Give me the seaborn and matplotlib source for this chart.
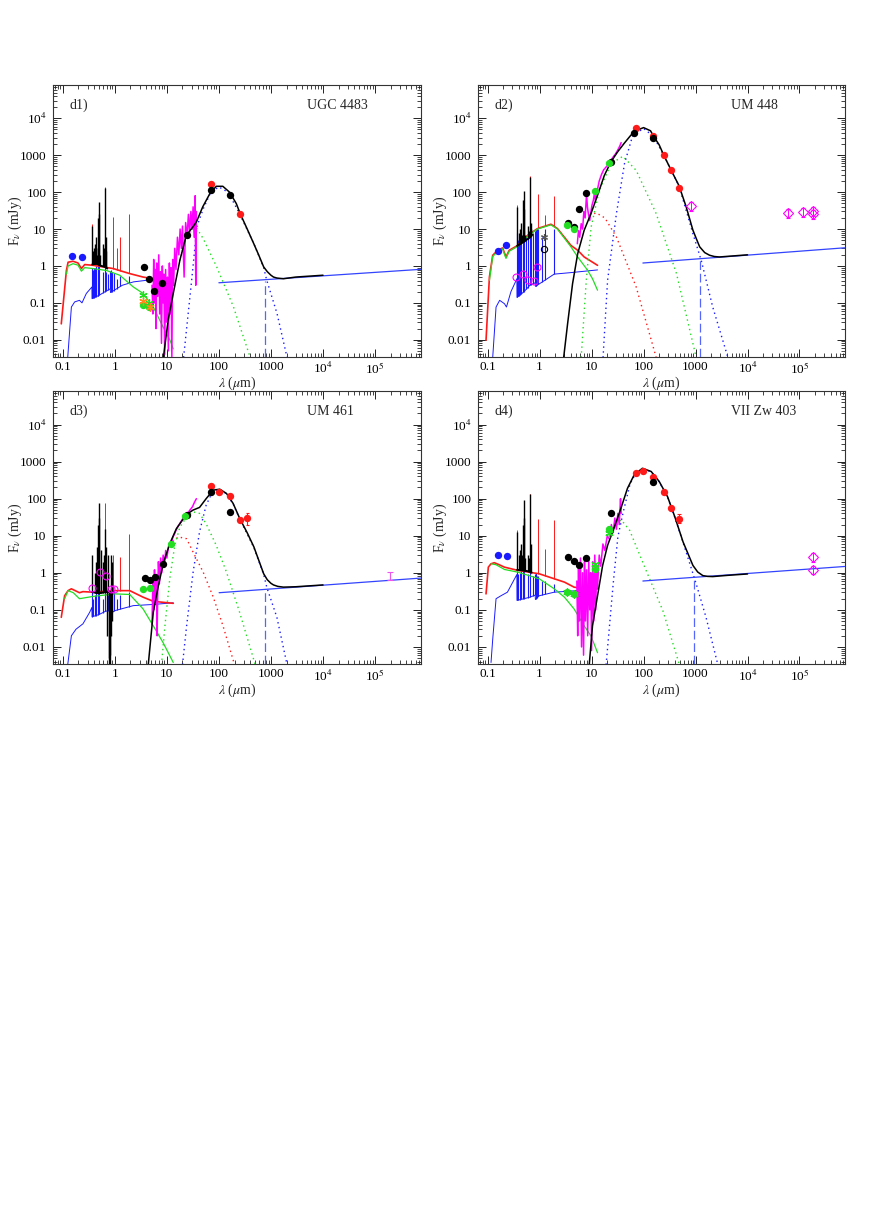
import matplotlib
matplotlib.use("Agg")
import matplotlib.pyplot as plt
import numpy as np
import seaborn as sns

# ---------------- d1  UGC 4483 ----------------
D1_RED = [(0.094, 0.027), (0.118, 0.76), (0.127, 1.26), (0.158, 1.34), (0.197, 1.2), (0.229, 0.85),
          (0.265, 1.09), (0.383, 1.04), (0.93, 0.85), (1.94, 0.62), (3.5, 0.50), (5.46, 0.45), (13.3, 0.43)]
D1_GREEN = [(0.118, 0.6), (0.127, 1.0), (0.158, 1.15), (0.197, 1.05), (0.229, 0.72), (0.265, 0.9), (0.383, 0.85),
            (0.7, 0.75), (1.25, 0.56), (2.27, 0.27), (3.5, 0.18), (5.5, 0.077), (8.5, 0.022), (11.5, 0.0097), (13.3, 0.0057)]
D1_BLUE = [(0.125, 0.0033), (0.147, 0.077), (0.17, 0.106), (0.21, 0.117), (0.235, 0.1), (0.285, 0.18), (0.365, 0.27),
           (0.367, 0.13), (0.5, 0.16), (0.65, 0.2), (0.82, 0.24), (0.83, 0.19), (1.4, 0.3), (2.3, 0.37), (5.5, 0.43), (13.3, 0.44)]
D1_BLUE_LINES = [(0.373, 0.9), (0.39, 0.8), (0.397, 0.9), (0.41, 0.9), (0.434, 1.0), (0.47, 0.8), (0.486, 1.0), (0.5, 1.1),
                 (0.59, 0.7), (0.656, 1.0), (0.67, 0.7), (0.73, 0.6), (0.82, 0.75), (0.84, 0.8), (0.87, 0.6), (0.9, 0.7),
                 (0.95, 0.65), (1.09, 0.45), (1.28, 0.55), (1.87, 0.55)]
D1_OPT = [(0.37, 1.1), (0.45, 1.15), (0.55, 1.0), (0.65, 0.95), (0.72, 0.85)]
D1_OPT_LINES = [(0.373, 12), (0.387, 2.5), (0.397, 3), (0.41, 4), (0.42, 2), (0.434, 6), (0.438, 3), (0.45, 2),
                (0.469, 3), (0.486, 20), (0.496, 25), (0.5007, 55), (0.53, 2), (0.588, 4), (0.61, 2), (0.63, 3),
                (0.656, 130), (0.672, 6), (0.69, 2.5)]
D1_RED_LINES = [(0.373, 14), (0.656, 135), (0.94, 21), (1.09, 3), (1.28, 6), (1.87, 25)]
D1_IRS = [(5.2, 0.3), (5.4, 0.05), (5.6, 1.5), (5.8, 0.1), (6.0, 0.8), (6.2, 0.02), (6.4, 1.2), (6.7, 0.15), (7.0, 2.0),
          (7.3, 0.05), (7.6, 0.7), (7.9, 0.008), (8.2, 1.0), (8.5, 0.1), (8.8, 0.6), (9.1, 0.004), (9.5, 0.8), (9.9, 0.03),
          (10.3, 0.5), (10.7, 0.005), (11.2, 1.2), (11.6, 0.05), (12.0, 0.9), (12.5, 0.003), (13, 1.5), (13.5, 0.3),
          (14.2, 3), (15, 0.8), (16, 6), (17, 2), (18, 10), (19, 3), (20, 12), (21.5, 0.5), (23, 15), (24.5, 6), (26, 25),
          (27.5, 8), (29, 30), (30.5, 10), (32, 40), (33.5, 6), (35, 80), (36, 0.3), (37, 30)]
D1_MODEL = [(8.6, 0.0033), (10.6, 0.034), (13.3, 0.18), (17.8, 1.42), (23.7, 6.8), (31.7, 11.4), (37, 15.6), (49, 40),
            (67, 91), (89, 144), (119, 144), (160, 100), (216, 49), (257, 26), (350, 10), (468, 4.0), (580, 2.0),
            (725, 0.94), (850, 0.7), (1000, 0.56), (1120, 0.5), (1300, 0.47), (1740, 0.45), (3000, 0.5), (10000, 0.56)]
D1_WARM = [(17.8, 1.4), (23.7, 6.5), (31.7, 10.5), (37.8, 10.3), (50, 5.5), (91, 0.94), (191, 0.077), (400, 0.0033)]
D1_COLD = [(21, 0.0033), (30, 0.41), (38, 12), (50, 35), (70, 100), (100, 138), (150, 100), (250, 26), (470, 4),
           (725, 0.9), (830, 0.41), (1310, 0.051), (2040, 0.0033)]
D1_RADIO = [(100, 0.35), (7.6e5, 0.81)]
D1_CUT = (753, 0.4)
D1_UV = [(0.153, 1.9), (0.231, 1.8)]
D1_BLACK_PTS = [(3.6, 0.93), (4.5, 0.43), (5.8, 0.21), (8.0, 0.35), (24, 7.1), (70, 112), (160, 83)]
D1_RED_PTS = [(70, 170), (250, 25)]
D1_GREEN_PTS = [(3.55, 0.086), (4.6, 0.075)]
D1_GREEN_STARS = [(3.55, 0.16), (4.6, 0.1)]
D1_ORANGE_STARS = [(3.55, 0.11), (4.7, 0.075)]

# ---------------- d2  UM 448 ----------------
D2_RED = [(0.093, 0.0097), (0.108, 0.5), (0.125, 1.94), (0.156, 2.66), (0.194, 3.07), (0.225, 1.75), (0.26, 2.66),
          (0.378, 3.6), (0.59, 6.8), (0.91, 10.3), (1.65, 13.5), (2.2, 10.3), (4.0, 3.6), (5.4, 2.66), (7.2, 1.75), (13, 1.04)]
D2_GREEN = [(0.108, 0.4), (0.125, 1.8), (0.156, 2.5), (0.194, 2.9), (0.225, 1.6), (0.26, 2.5), (0.378, 3.4), (0.59, 6.5),
            (0.91, 10), (1.65, 13), (2.2, 10), (4.0, 3.3), (5.4, 1.75), (8.4, 0.76), (10.4, 0.45), (13, 0.22)]
D2_BLUE = [(0.125, 0.0033), (0.145, 0.077), (0.17, 0.117), (0.21, 0.095), (0.23, 0.077), (0.28, 0.2), (0.365, 0.45),
           (0.367, 0.14), (0.5, 0.2), (0.65, 0.3), (0.82, 0.35), (0.83, 0.28), (1.23, 0.4), (1.9, 0.6), (4, 0.66), (13, 0.78)]
D2_BLUE_LINES = [(0.373, 8), (0.39, 5), (0.397, 6), (0.41, 6), (0.434, 7), (0.486, 8), (0.5, 9), (0.55, 6), (0.59, 7),
                 (0.656, 10), (0.67, 7), (0.73, 8), (0.82, 9), (0.84, 10), (0.87, 9), (0.9, 11), (0.95, 10), (1.09, 6),
                 (1.28, 10), (1.87, 10)]
D2_OPT = [(0.37, 3.5), (0.45, 4.2), (0.55, 5), (0.65, 6), (0.72, 7)]
D2_OPT_LINES = [(0.373, 40), (0.397, 8), (0.41, 10), (0.42, 6), (0.434, 15), (0.45, 7), (0.486, 60), (0.496, 35),
                (0.5007, 110), (0.53, 7), (0.59, 12), (0.63, 9), (0.656, 260), (0.672, 15), (0.69, 10)]
D2_RED_LINES = [(0.373, 45), (0.656, 270), (0.94, 90), (1.28, 24), (1.87, 80)]
D2_IRS = [(5.3, 4), (5.6, 9), (5.9, 6), (6.3, 14), (6.7, 10), (7.1, 30), (7.5, 20), (8.0, 90), (8.3, 40), (8.7, 25),
          (9.2, 17), (9.7, 30), (10.2, 45), (10.8, 60), (11.3, 90), (11.8, 60), (12.4, 100), (13, 120), (14, 200),
          (15.5, 300), (17, 400), (19, 480), (21, 560), (23, 700), (26, 900), (29, 1100), (32, 1400), (35, 1800), (37, 2200)]
D2_MODEL = [(2.9, 0.0033), (3.45, 0.027), (4.3, 0.33), (5.4, 2.16), (7.2, 9.3), (9.7, 26), (13, 82), (17.6, 285),
            (23.5, 660), (31.6, 1230), (42, 2070), (57, 3500), (75, 4800), (100, 5600), (136, 4600), (155, 3300),
            (200, 1900), (245, 1000), (340, 390), (480, 150), (660, 40), (890, 9.3), (1050, 5.2), (1200, 3.3),
            (1500, 2.3), (1860, 1.95), (2300, 1.8), (2880, 1.75), (10000, 2.0)]
D2_HOT = [(9.1, 24), (12.3, 27.4), (18, 20), (30, 6.1), (72, 0.27), (175, 0.0033)]
D2_WARM = [(6.3, 0.0033), (7.9, 0.41), (9.8, 11.4), (14, 112), (24, 600), (40, 935), (72, 390), (175, 26), (430, 0.62),
           (1030, 0.0033)]
D2_COLD = [(16.6, 0.0033), (20.3, 0.41), (30, 26), (43, 600), (62, 3500), (100, 5300), (155, 3250), (245, 990),
           (480, 148), (890, 7.5), (1290, 1.4), (2140, 0.077), (4200, 0.0033)]
D2_RADIO = [(97, 1.2), (7.4e5, 3.1)]
D2_CUT = (1230, 1.45)
D2_UV = [(0.156, 2.55), (0.23, 3.6)]
D2_BLACK_PTS = [(3.45, 14.6), (4.5, 11.4), (5.6, 34.5), (7.8, 97), (23.5, 660), (66, 4100), (151, 3000)]
D2_RED_PTS = [(70, 5500), (155, 3330), (245, 1000), (340, 390), (480, 133)]
D2_GREEN_PTS = [(3.35, 12.7), (4.5, 9.8), (11.5, 107), (22, 620)]
D2_OPEN_CIRCLES = [(0.35, 0.5), (0.47, 0.62), (0.6, 0.41), (0.77, 0.39), (0.89, 0.94)]
D2_BLACK_OPEN = [(1.23, 2.95)]
D2_BLACK_STAR = [(1.23, 6.1)]
D2_DIAMONDS = [(830, 42), (6e4, 27), (1.15e5, 29), (1.85e5, 31), (1.85e5, 25)]

# ---------------- d3  UM 461 ----------------
D3_RED = [(0.094, 0.063), (0.109, 0.24), (0.127, 0.33), (0.147, 0.37), (0.21, 0.29), (0.245, 0.31), (0.38, 0.3),
          (1.0, 0.33), (1.94, 0.33), (3.5, 0.22), (5.5, 0.17), (13.3, 0.15)]
D3_GREEN = [(0.109, 0.2), (0.127, 0.33), (0.16, 0.29), (0.21, 0.2), (0.38, 0.23), (1.0, 0.27), (1.94, 0.26),
            (3.5, 0.106), (5.5, 0.037), (8.5, 0.013), (13.3, 0.0038)]
D3_BLUE = [(0.125, 0.0033), (0.147, 0.02), (0.18, 0.03), (0.245, 0.042), (0.33, 0.086), (0.365, 0.117), (0.367, 0.065),
           (0.5, 0.075), (0.65, 0.09), (0.82, 0.1), (0.83, 0.08), (1.0, 0.095), (2.27, 0.13), (5.5, 0.14), (13.3, 0.155)]
D3_BLUE_LINES = [(0.373, 0.3), (0.39, 0.2), (0.41, 0.25), (0.434, 0.3), (0.486, 0.3), (0.5, 0.3), (0.59, 0.2),
                 (0.656, 0.35), (0.73, 0.25), (0.82, 0.3), (0.84, 0.35), (0.87, 0.3), (0.9, 0.3), (0.95, 0.3),
                 (1.09, 0.2), (1.28, 0.25), (1.87, 0.3)]
D3_OPT = [(0.37, 0.3), (0.5, 0.28), (0.65, 0.3), (0.75, 0.3), (0.95, 0.3)]
D3_OPT_LINES = [(0.373, 3), (0.41, 1), (0.434, 2), (0.45, 5), (0.486, 20), (0.496, 30), (0.5007, 75), (0.55, 4),
                (0.59, 2), (0.63, 3), (0.656, 15), (0.672, 5), (0.72, 0.02), (0.75, 3), (0.76, 0.003), (0.78, 0.005),
                (0.8, 0.003), (0.82, 0.006), (0.84, 0.02), (0.86, 3), (0.88, 0.05), (0.9, 2)]
D3_RED_LINES = [(0.656, 74), (0.94, 3), (1.28, 2.7), (1.87, 11.4)]
D3_IRS = [(5.2, 0.04), (5.4, 0.6), (5.6, 0.1), (5.8, 1.2), (6.0, 0.2), (6.3, 0.9), (6.5, 0.02), (6.7, 0.3), (6.9, 2.0),
          (7.2, 0.5), (7.6, 2.5), (8.0, 1.0), (8.5, 3), (9.0, 1.5), (9.5, 4), (10, 2.5), (11, 6), (12, 5), (13, 9),
          (14, 11), (15, 14), (16.5, 18), (18, 22), (20, 28), (22, 32), (25, 40), (28, 50), (31, 60), (34, 80), (37, 100)]
D3_MODEL = [(4.4, 0.0033), (5.5, 0.086), (6.7, 0.37), (8.5, 1.75), (11.4, 6.1), (15.3, 15.6), (23.7, 37), (31.7, 49),
            (42.5, 58), (57, 100), (77.8, 170), (104, 180), (140, 138), (188, 74), (252, 29), (350, 12), (470, 5),
            (725, 0.94), (850, 0.65), (1000, 0.52), (1120, 0.47), (1350, 0.43), (1740, 0.41), (3000, 0.42), (10000, 0.47)]
D3_HOT = [(13, 7), (16.6, 9.3), (24, 8.3), (32, 3.6), (50, 1.04), (78, 0.22), (120, 0.037), (200, 0.0033)]
D3_WARM = [(7.9, 0.0033), (9.2, 0.037), (11.4, 0.69), (14.2, 5.5), (17.8, 17), (24, 32), (32, 44), (42.5, 40), (57, 21),
           (89, 5.5), (140, 1.04), (250, 0.086), (500, 0.0033)]
D3_COLD = [(20, 0.0033), (24, 0.037), (32, 1.04), (42.5, 12.7), (57, 67), (75, 150), (104, 175), (140, 135), (188, 72),
           (252, 28), (470, 4.8), (725, 0.9), (830, 0.41), (1300, 0.063), (2040, 0.0033)]
D3_RADIO = [(101, 0.29), (7.6e5, 0.72)]
D3_CUT = (780, 0.35)
D3_BLACK_PTS = [(3.78, 0.72), (4.7, 0.62), (6.05, 0.76), (8.5, 1.75), (24.5, 36), (72, 148), (162, 44)]
D3_RED_PTS = [(72, 220), (100, 148), (162, 117), (250, 27), (350, 31)]
D3_GREEN_PTS = [(3.5, 0.37), (4.7, 0.38), (12.3, 6.1), (22, 33.6)]
D3_OPEN_CIRCLES = [(0.37, 0.39), (0.51, 1.04), (0.67, 0.8), (0.83, 0.37), (0.97, 0.37)]
D3_RED_ERR = [(350, 20, 42)]
D3_PINK_ERR = [(1.95e5, 0.64, 1.04)]

# ---------------- d4  VII Zw 403 ----------------
D4_RED = [(0.093, 0.27), (0.103, 1.42), (0.116, 1.75), (0.134, 1.87), (0.167, 1.65), (0.21, 1.42), (0.38, 1.16),
          (0.98, 0.94), (1.91, 0.69), (3.0, 0.56), (4.6, 0.41), (7.2, 0.37), (13, 0.37)]
D4_GREEN = [(0.116, 1.75), (0.145, 1.65), (0.21, 1.23), (0.38, 1.04), (0.98, 0.69), (1.91, 0.37), (3.0, 0.22),
            (4.6, 0.106), (7.2, 0.037), (9.7, 0.02), (13, 0.007)]
D4_BLUE = [(0.116, 0.0038), (0.125, 0.016), (0.145, 0.2), (0.18, 0.24), (0.24, 0.3), (0.365, 0.9), (0.367, 0.18),
           (0.5, 0.2), (0.65, 0.22), (0.82, 0.25), (0.83, 0.19), (0.98, 0.24), (1.91, 0.3), (5.4, 0.33), (13, 0.37)]
D4_BLUE_LINES = [(0.373, 1.1), (0.39, 0.9), (0.41, 1), (0.434, 1.1), (0.486, 1.2), (0.5, 1.2), (0.59, 0.9), (0.656, 1.1),
                 (0.73, 0.8), (0.82, 0.9), (0.84, 1), (0.87, 0.9), (0.9, 0.8), (0.95, 0.8), (1.09, 0.6), (1.28, 0.6),
                 (1.87, 0.5)]
D4_OPT = [(0.37, 1.2), (0.5, 1.15), (0.6, 1.1), (0.7, 1.0)]
D4_OPT_LINES = [(0.373, 12.6), (0.397, 3), (0.41, 4), (0.42, 2.5), (0.434, 6), (0.45, 3), (0.486, 20), (0.496, 30),
                (0.5007, 91), (0.53, 2.5), (0.59, 3), (0.63, 2.5), (0.656, 130), (0.672, 6)]
D4_RED_LINES = [(0.373, 14), (0.656, 135), (0.94, 28), (1.28, 4.5), (1.87, 26)]
D4_IRS = [(5.2, 0.6), (5.4, 0.02), (5.6, 1.5), (5.8, 0.05), (6.1, 2.5), (6.4, 0.01), (6.7, 1.0), (7.0, 0.006),
          (7.3, 2.0), (7.6, 0.05), (8.0, 1.2), (8.4, 0.02), (8.8, 2.5), (9.2, 0.1), (9.6, 1.0), (10, 0.008), (10.5, 2.0),
          (11, 0.05), (11.5, 3), (12, 0.1), (12.5, 1.5), (13, 0.4), (14, 3), (15, 1.5), (16.5, 6), (18, 4), (20, 10),
          (22, 8), (24, 20), (26, 12), (28, 30), (30, 15), (32, 40), (34, 20), (36, 100), (37, 40)]
D4_MODEL = [(9, 0.0033), (10.4, 0.037), (13, 0.24), (16.3, 1.58), (20.3, 5.5), (27.3, 17), (36.5, 54), (49, 190),
            (66, 440), (95, 660), (140, 540), (200, 290), (290, 112), (400, 32), (575, 6.8), (890, 1.58), (1100, 1.05),
            (1380, 0.84), (1700, 0.8), (2140, 0.79), (4000, 0.85), (10000, 0.93)]
D4_WARM = [(20, 10), (27, 16), (37, 27), (54, 14), (112, 1.15), (235, 0.095), (490, 0.0033)]
D4_COLD = [(19, 0.0033), (26, 0.5), (32, 9.3), (40, 40), (55, 250), (70, 470), (95, 640), (140, 530), (200, 285),
           (290, 110), (400, 31), (575, 6.6), (1030, 0.5), (1590, 0.063), (2690, 0.0033)]
D4_RADIO = [(97, 0.6), (7.4e5, 1.48)]
D4_CUT = (915, 0.7)
D4_UV = [(0.158, 3.07), (0.234, 2.8)]
D4_BLACK_PTS = [(3.55, 2.66), (4.5, 2.07), (5.8, 1.58), (7.8, 2.55), (23.5, 42), (155, 275)]
D4_RED_PTS = [(70, 500), (98, 565), (155, 390), (245, 148), (340, 56), (480, 29)]
D4_GREEN_PTS = [(3.35, 0.31), (4.6, 0.27), (11.5, 1.28), (22, 15.6)]
D4_GREEN_STARS = [(3.35, 0.31), (4.6, 0.27), (11.5, 1.7), (22, 12)]
D4_DIAMONDS = [(1.85e5, 2.66), (1.85e5, 1.2)]
D4_RED_ERR = [(480, 22, 38)]

PANELS = [
    dict(tag="d1)", name="UGC 4483", red=D1_RED, green=D1_GREEN, blue=D1_BLUE, blines=D1_BLUE_LINES, opt=D1_OPT,
         olines=D1_OPT_LINES, rlines=D1_RED_LINES, irs=D1_IRS, model=D1_MODEL, hot=None, warm=D1_WARM, cold=D1_COLD,
         radio=D1_RADIO, cut=D1_CUT, uv=D1_UV, black=D1_BLACK_PTS, redp=D1_RED_PTS, greenp=D1_GREEN_PTS,
         gstars=D1_GREEN_STARS, ostars=D1_ORANGE_STARS),
    dict(tag="d2)", name="UM 448", red=D2_RED, green=D2_GREEN, blue=D2_BLUE, blines=D2_BLUE_LINES, opt=D2_OPT,
         olines=D2_OPT_LINES, rlines=D2_RED_LINES, irs=D2_IRS, model=D2_MODEL, hot=D2_HOT, warm=D2_WARM, cold=D2_COLD,
         radio=D2_RADIO, cut=D2_CUT, uv=D2_UV, black=D2_BLACK_PTS, redp=D2_RED_PTS, greenp=D2_GREEN_PTS,
         circles=D2_OPEN_CIRCLES, bopen=D2_BLACK_OPEN, bstar=D2_BLACK_STAR, diamonds=D2_DIAMONDS),
    dict(tag="d3)", name="UM 461", red=D3_RED, green=D3_GREEN, blue=D3_BLUE, blines=D3_BLUE_LINES, opt=D3_OPT,
         olines=D3_OPT_LINES, rlines=D3_RED_LINES, irs=D3_IRS, model=D3_MODEL, hot=D3_HOT, warm=D3_WARM, cold=D3_COLD,
         radio=D3_RADIO, cut=D3_CUT, uv=[], black=D3_BLACK_PTS, redp=D3_RED_PTS, greenp=D3_GREEN_PTS,
         circles=D3_OPEN_CIRCLES, rerr=D3_RED_ERR, perr=D3_PINK_ERR),
    dict(tag="d4)", name="VII Zw 403", red=D4_RED, green=D4_GREEN, blue=D4_BLUE, blines=D4_BLUE_LINES, opt=D4_OPT,
         olines=D4_OPT_LINES, rlines=D4_RED_LINES, irs=D4_IRS, model=D4_MODEL, hot=None, warm=D4_WARM, cold=D4_COLD,
         radio=D4_RADIO, cut=D4_CUT, uv=D4_UV, black=D4_BLACK_PTS, redp=D4_RED_PTS, greenp=D4_GREEN_PTS,
         gstars=D4_GREEN_STARS, diamonds=D4_DIAMONDS, rerr=D4_RED_ERR),
]

# axes boxes (figure fraction)
BOXES = [[0.0611, 0.7102, 0.4213, 0.2208], [0.5485, 0.7102, 0.4205, 0.2208],
         [0.0611, 0.4608, 0.4213, 0.2218], [0.5485, 0.4608, 0.4205, 0.2218]]

XTICKS = [0.1, 1, 10, 100, 1000, 1e4, 1e5]
XTICKLABELS = ["0.1", "1", "10", "100", "1000", "10$^4$", "10$^5$"]
YTICKS = [0.01, 0.1, 1, 10, 100, 1000, 1e4]
YTICKLABELS = ["0.01", "0.1", "1", "10", "100", "1000", "10$^4$"]

RED = "#ff1a1a"
GREEN = "#22dd22"
BLUE = "#1a1aff"
MAG = "#ff00ff"

sns.set_style("ticks")
plt.rcParams["font.family"] = ["Liberation Serif", "DejaVu Serif"]
plt.rcParams["mathtext.fontset"] = "stix"


def xy(pts):
    return [p[0] for p in pts], [p[1] for p in pts]


def curve(ax, pts, color, lw=0.8, ls="-", z=3):
    x, y = xy(pts)
    sns.lineplot(x=x, y=y, ax=ax, color=color, lw=lw, linestyle=ls, sort=False, estimator=None, zorder=z)


def spikes(ax, base, lines, color, lw=0.7, z=2):
    bx, by = xy(base)
    lx, ly = xy(lines)
    bottom = 10 ** np.interp(np.log10(lx), np.log10(bx), np.log10(by))
    ax.vlines(lx, bottom, ly, color=color, lw=lw, zorder=z)


def dots(ax, pts, color, s=28, z=6):
    if not pts:
        return
    x, y = xy(pts)
    sns.scatterplot(x=x, y=y, ax=ax, color=color, s=s, edgecolor=color, linewidth=0, zorder=z)


fig = plt.figure(figsize=(8.72, 12.32), dpi=100)

for p, box in zip(PANELS, BOXES):
    ax = fig.add_axes(box)
    ax.set_xscale("log")
    ax.set_yscale("log")
    ax.set_xlim(0.066, 7.5e5)
    ax.set_ylim(0.0034, 8e4)

    # stellar + nebular spectra
    spikes(ax, p["red"], p["rlines"], RED, z=1)
    curve(ax, p["red"], RED, lw=1.2, z=3)
    spikes(ax, p["blue"], p["blines"], BLUE, lw=0.8, z=2)
    curve(ax, p["blue"], BLUE, lw=0.7, z=2)
    curve(ax, p["green"], GREEN, lw=0.9, z=3)
    spikes(ax, p["opt"], p["olines"], "black", lw=1.0, z=4)
    curve(ax, p["opt"], "black", lw=1.4, z=4)
    curve(ax, p["irs"], MAG, lw=1.1, z=4)

    # dust components
    dotted = (0, (1, 2.5))
    if p["hot"] is not None:
        curve(ax, p["hot"], RED, lw=1.0, ls=dotted, z=3)
    curve(ax, p["warm"], GREEN, lw=1.0, ls=dotted, z=3)
    curve(ax, p["cold"], BLUE, lw=1.0, ls=dotted, z=3)
    curve(ax, p["radio"], "#3344ff", lw=0.9, z=3)
    cx, ctop = p["cut"]
    ax.vlines([cx], 0.0034, ctop, color="#5566ff", lw=0.9, linestyles=(0, (7, 3)), zorder=3)
    curve(ax, p["model"], "black", lw=1.1, z=5)

    # photometry
    dots(ax, p["uv"], BLUE)
    dots(ax, p["redp"], RED)
    dots(ax, p["black"], "black")
    dots(ax, p["greenp"], GREEN)
    for key, col in (("gstars", GREEN), ("ostars", "#ff8c1a")):
        if key in p:
            x, y = xy(p[key])
            ax.plot(x, y, ls="none", marker=(6, 2, 0), ms=6, mec=col, mew=0.9, zorder=6)
    if "circles" in p:
        x, y = xy(p["circles"])
        ax.plot(x, y, ls="none", marker="o", ms=5, mfc="none", mec=MAG, mew=0.8, zorder=6)
    if "bopen" in p:
        x, y = xy(p["bopen"])
        ax.plot(x, y, ls="none", marker="o", ms=4.5, mfc="none", mec="black", mew=0.8, zorder=6)
        x, y = xy(p["bstar"])
        ax.plot(x, y, ls="none", marker=(6, 2, 0), ms=5, mec="#555555", mew=0.8, zorder=6)
    if "diamonds" in p:
        x, y = xy(p["diamonds"])
        ax.errorbar(x, y, yerr=[[v * 0.25 for v in y], [v * 0.3 for v in y]], fmt="D", ms=5, mfc="none",
                    mec=MAG, ecolor=MAG, elinewidth=0.7, capsize=1.5, mew=0.8, zorder=6)
    if "rerr" in p:
        for lam, lo, hi in p["rerr"]:
            ax.vlines(lam, lo, hi, color=RED, lw=0.8, zorder=6)
            ax.hlines([lo, hi], lam * 0.93, lam * 1.07, color=RED, lw=0.8, zorder=6)
    if "perr" in p:
        for lam, lo, hi in p["perr"]:
            ax.vlines(lam, lo, hi, color="#ee55ee", lw=0.8, zorder=6)
            ax.hlines([lo, hi], lam * 0.88, lam * 1.12, color="#ee55ee", lw=0.8, zorder=6)

    ax.set_xticks(XTICKS)
    ax.set_xticklabels(XTICKLABELS)
    ax.set_yticks(YTICKS)
    ax.set_yticklabels(YTICKLABELS)
    ax.tick_params(which="both", direction="in", top=True, right=True, labelsize=9.5, colors="#222222",
                   labelcolor="black")
    ax.tick_params(which="major", length=6, width=0.7)
    ax.tick_params(axis="x", which="major", pad=3)
    ax.tick_params(axis="y", which="major", pad=5)
    ax.tick_params(which="minor", length=3, width=0.6)
    for sp in ax.spines.values():
        sp.set_color("#333333")
        sp.set_linewidth(0.8)
    ax.set_xlabel(r"$\lambda$ ($\mu$m)", fontsize=10)
    ax.xaxis.set_label_coords(0.5, -0.065)
    ax.set_ylabel(r"F$_\nu$ (mJy)", fontsize=10)
    ax.yaxis.set_label_coords(-0.08, 0.5)
    ax.text(0.045, 0.925, p["tag"], transform=ax.transAxes, fontsize=10, va="center", ha="left")
    ax.text(0.69, 0.925, p["name"], transform=ax.transAxes, fontsize=10, va="center", ha="left")

fig.savefig("out.png", dpi=100)
